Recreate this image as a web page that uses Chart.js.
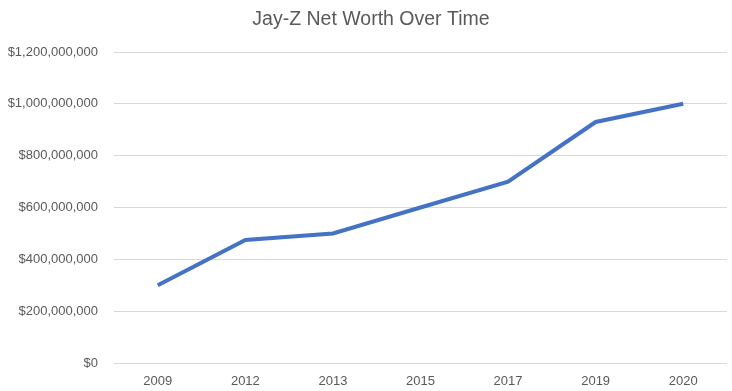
<!DOCTYPE html>
<html>
<head>
<meta charset="utf-8">
<script src="https://cdn.jsdelivr.net/npm/chart.js@4/dist/chart.umd.min.js"></script>
<style>
html,body{margin:0;padding:0;background:#fff;}
#wrap{width:732px;height:391px;}
</style>
</head>
<body>
<div id="wrap"><canvas id="c" width="732" height="391"></canvas></div>
<script>
const categories = ["2009","2012","2013","2015","2017","2019","2020"];
const netWorth = [300000000, 475000000, 500000000, 600000000, 700000000, 930000000, 1000000000];
const titleText = "Jay-Z Net Worth Over Time";

const fontFamily = "'Liberation Sans', 'Open Sans', sans-serif";

const offsetTitle = {
  id: 'offsetTitle',
  afterDraw(chart) {
    const ctx = chart.ctx;
    ctx.save();
    ctx.font = "19.5px " + fontFamily;
    ctx.fillStyle = '#595959';
    ctx.textAlign = 'center';
    ctx.textBaseline = 'middle';
    ctx.fillText(titleText, 371, 20);
    ctx.restore();
  }
};

new Chart(document.getElementById('c'), {
  type: 'line',
  data: {
    labels: categories,
    datasets: [{
      data: netWorth,
      borderColor: '#4472C4',
      borderWidth: 4,
      pointRadius: 0,
      tension: 0,
      fill: false
    }]
  },
  options: {
    responsive: false,
    animation: false,
    layout: { padding: { left: 0, right: 5, top: 52, bottom: 0 } },
    plugins: {
      legend: { display: false },
      tooltip: { enabled: false },
      title: { display: false }
    },
    scales: {
      x: {
        offset: true,
        grid: { display: false, drawTicks: false },
        border: { display: false },
        ticks: { color: '#595959', font: { family: fontFamily, size: 13 }, padding: 11, maxRotation: 0 },
        afterFit: s => { s.height = 28; }
      },
      y: {
        min: 0, max: 1200000000,
        grid: { color: '#d9d9d9', drawTicks: false, lineWidth: 1 },
        border: { display: false },
        ticks: {
          stepSize: 200000000,
          color: '#595959',
          font: { family: fontFamily, size: 13 },
          padding: 16,
          callback: v => '$' + Number(v).toLocaleString('en-US')
        },
        afterFit: s => { s.width = 114; }
      }
    }
  },
  plugins: [offsetTitle]
});
</script>
</body>
</html>
